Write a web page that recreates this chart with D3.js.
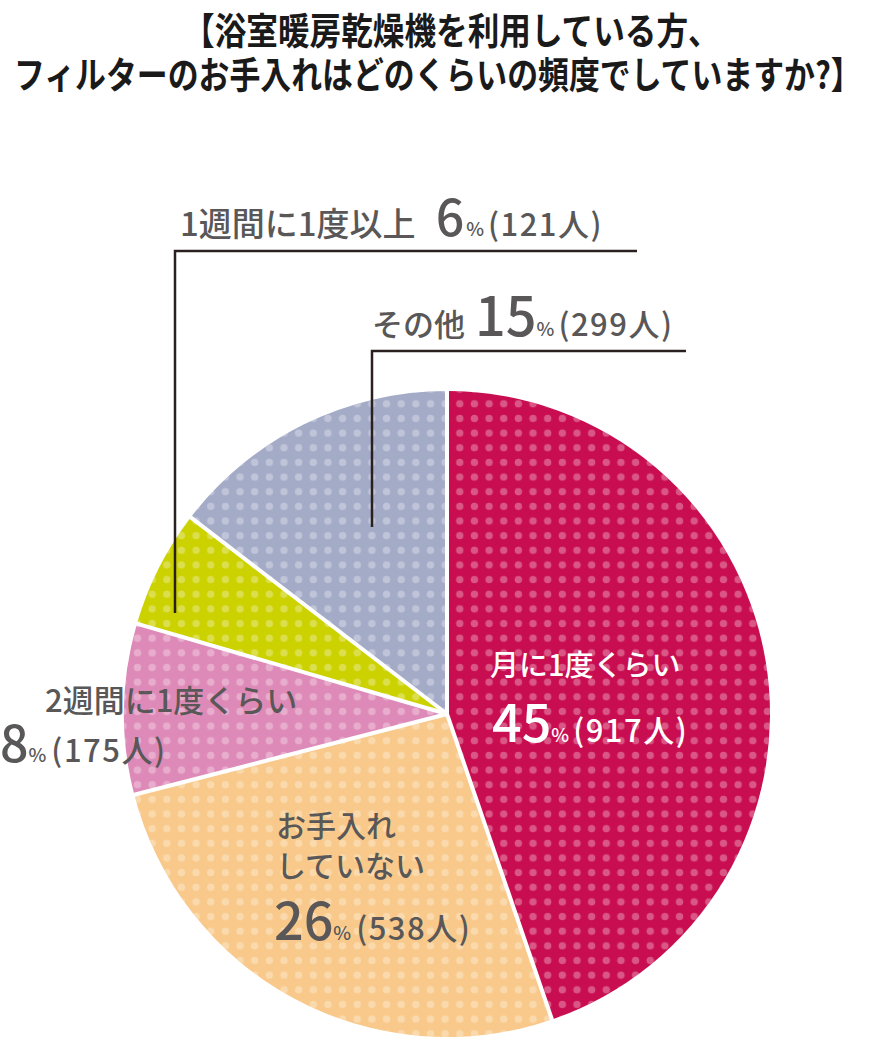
<!DOCTYPE html>
<html><head><meta charset="utf-8">
<script src="https://cdn.jsdelivr.net/npm/d3@7"></script>
<style>
body{margin:0;background:#fff;}
svg{display:block;font-family:"Noto Sans CJK JP","Noto Sans",sans-serif;}
</style></head>
<body>
<script>
// Data
const categories = ["月に1度くらい","お手入れしていない","2週間に1度くらい","1週間に1度以上","その他"];
const counts = [917, 538, 175, 121, 299];
const percents = [45, 26, 8, 6, 15];
const colors = ["#C80D50", "#F8C98A", "#DE8AB8", "#CCD100", "#A4ABC7"];
const titleLines = ["【浴室暖房乾燥機を利用している方、", "フィルターのお手入れはどのくらいの頻度でしていますか?】"];

const W = 873, H = 1039;
const cx = 447, cy = 714, R = 323;
const svg = d3.select("body").append("svg").attr("width", W).attr("height", H);

// dot pattern
const defs = svg.append("defs");
const step = 14.65;
const pat = defs.append("pattern").attr("id","dots").attr("patternUnits","userSpaceOnUse")
  .attr("width", step).attr("height", step).attr("x", 452.3 - step/2).attr("y", 422.3 - step/2);
pat.append("circle").attr("cx", step/2).attr("cy", step/2).attr("r", 3.7).attr("fill","#fff").attr("fill-opacity",0.3);

// title (condensed by horizontal scaling)
const tl = [{x0:183,x1:720,y:45},{x0:14,x1:862,y:89}];
titleLines.forEach((t,i)=>{
  const txt = svg.append("text").attr("x", 0).attr("y", 0)
    .attr("font-size", 37).attr("font-weight", 700).attr("fill","#1a1a1a").text(t);
  const len = txt.node().getComputedTextLength();
  const sx = (tl[i].x1 - tl[i].x0) / len;
  txt.attr("transform", `translate(${tl[i].x0},${tl[i].y}) scale(${sx},1)`);
});

// pie
const pie = d3.pie().sort(null).value(d=>d)(counts);
const arc = d3.arc().innerRadius(0).outerRadius(R);
const g = svg.append("g").attr("transform", `translate(${cx},${cy})`);
g.selectAll("path.base").data(pie).enter().append("path").attr("class","base")
  .attr("d", arc).attr("fill", (d,i)=>colors[i]);
// pattern overlay
g.selectAll("path.dot").data(pie).enter().append("path").attr("class","dot")
  .attr("d", arc).attr("fill","url(#dots)");
// separators
pie.forEach(d=>{
  const a = d.startAngle;
  g.append("line").attr("x1",0).attr("y1",0)
    .attr("x2", (R+2)*Math.sin(a)).attr("y2", -(R+2)*Math.cos(a))
    .attr("stroke","#fff").attr("stroke-width",4);
});

// leader lines
const lc = "#2a2020";
svg.append("polyline").attr("points","175,613 175,251 637,251").attr("fill","none").attr("stroke",lc).attr("stroke-width",2.5);
svg.append("polyline").attr("points","372,527 372,351 686,351").attr("fill","none").attr("stroke",lc).attr("stroke-width",2.5);

const gray = "#595757";
function label(x, y, parts, fill){
  const t = svg.append("text").attr("x", x).attr("y", y).attr("fill", fill).attr("font-weight",500);
  parts.forEach(p=>{
    const s = t.append("tspan").attr("font-size", p.size).text(p.text);
    if (p.dx) s.attr("dx", p.dx);
    if (p.ls) s.attr("letter-spacing", p.ls);
  });
  return t;
}
const paren = n => "(" + n + "人)";
// 1週間に1度以上
label(180, 236, [
  {text:"1週間に1度以上", size:33},
  {text:String(percents[3]), size:50, dx:20},
  {text:"%", size:19, dx:2},
  {text:paren(counts[3]), size:31, dx:4, ls:1.5}
], gray);
// その他
label(372, 336, [
  {text:"その他", size:31},
  {text:String(percents[4]), size:54, dx:10},
  {text:"%", size:19},
  {text:paren(counts[4]), size:31, dx:4, ls:1.5}
], gray);
// 2週間に1度くらい
label(45, 712, [{text:"2週間に1度くらい", size:31}], gray);
label(0, 762, [
  {text:String(percents[2]), size:50},
  {text:"%", size:19},
  {text:paren(counts[2]), size:31, dx:5, ls:1.5}
], gray);
// 月に1度くらい
label(490, 676, [{text:"月に1度くらい", size:29}], "#fff");
label(492, 742, [
  {text:String(percents[0]), size:52},
  {text:"%", size:19},
  {text:paren(counts[0]), size:31, dx:4, ls:1.5}
], "#fff");
// お手入れしていない
label(276, 837, [{text:"お手入れ", size:30}], gray);
label(276, 877, [{text:"していない", size:30}], gray);
label(274, 940, [
  {text:String(percents[1]), size:52},
  {text:"%", size:19},
  {text:paren(counts[1]), size:31, dx:5, ls:1.5}
], gray);
</script>
</body></html>
